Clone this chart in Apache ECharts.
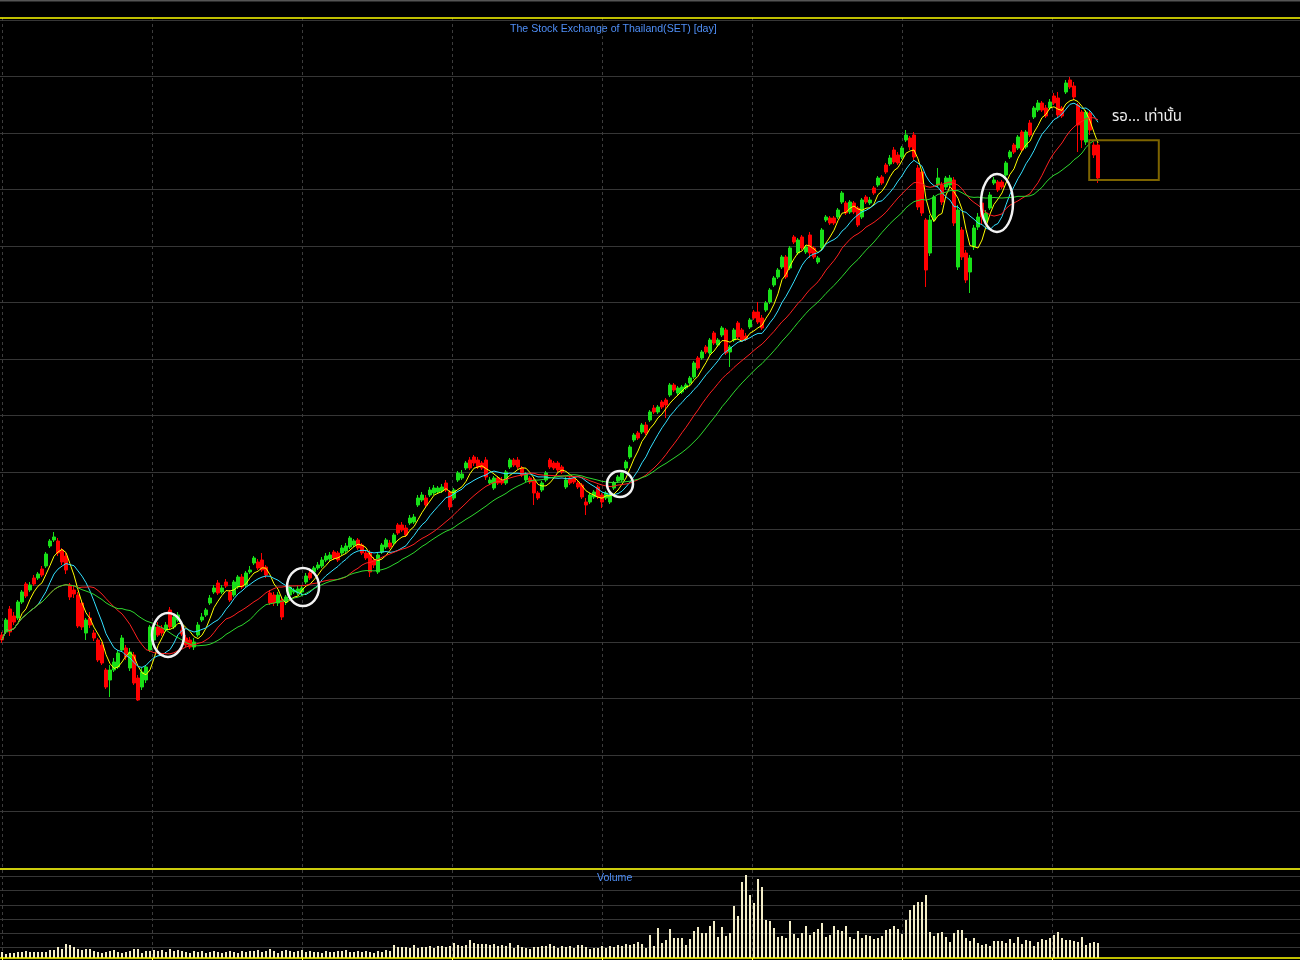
<!DOCTYPE html>
<html><head><meta charset="utf-8">
<script src="https://cdn.jsdelivr.net/npm/echarts/dist/echarts.min.js"></script>
<style>html,body{margin:0;padding:0;background:#000;overflow:hidden}#c{width:1300px;height:960px}</style>
</head><body><div id="c"></div>
<script>
// ---- data (index points, arbitrary scale; volume in arbitrary units) ----
const opens = [
233,236,259,252,250,266,284,278,290,290, 299,302,322,328,327,318,312,283,278,273,
265,235,250,235,228,223,198,188,198,201, 218,220,200,213,190,181,188,218,228,241,
240,238,258,241,248,238,230,228,221,233, 248,253,265,276,285,276,286,276,273,281,
291,283,296,305,306,308,301,275,273,265, 268,266,273,276,275,276,286,295,296,300,
302,308,309,316,315,315,317,321,323,328, 323,315,315,308,296,316,321,325,325,343,
343,340,345,346,363,368,370,373,375,376, 377,385,376,370,388,390,400,408,411,408,
405,408,385,380,390,388,385,401,408,408, 400,388,390,388,375,378,388,408,405,405,
401,381,390,390,385,383,366,366,371,381, 373,370,366,380,387,388,400,411,428,435,
436,443,448,460,456,466,468,473,483,475, 476,480,485,491,510,510,521,515,535,523,
533,538,516,528,545,538,532,541,556,556, 550,558,566,583,591,601,611,600,631,615,
631,616,633,620,606,620,648,650,650,651, 666,665,656,665,660,651,671,665,680,683,
691,703,704,718,713,711,728,730,733,700, 696,648,615,648,683,683,681,683,688,601,
638,615,596,621,641,665,646,660,685,686, 686,693,711,723,720,736,721,745,751,758,
765,760,760,772,770,760,776,788,782,763, 756,726,755,723,723];
const closes = [
228,248,236,246,266,276,272,283,284,294, 293,314,327,331,315,306,298,271,274,242,
241,248,243,230,208,205,181,198,206,215, 230,211,216,185,168,196,201,241,241,233,
235,243,241,251,253,234,223,221,226,243, 251,258,270,280,275,280,282,268,286,291,
281,295,298,310,300,298,293,265,265,273, 251,271,281,278,279,280,292,290,300,303,
308,312,313,310,308,320,322,330,327,320, 315,310,296,303,313,323,328,321,333,335,
338,333,350,351,370,373,363,378,380,380, 381,378,361,378,395,394,405,400,405,401,
400,391,388,390,385,385,396,408,403,401, 393,394,386,375,370,385,395,401,400,398,
396,388,385,386,381,371,363,373,376,371, 366,375,373,385,391,395,406,421,433,430,
443,435,456,456,461,461,463,483,478,480, 481,483,490,505,500,516,516,528,525,528,
540,515,521,538,531,528,529,548,550,546, 540,565,578,590,598,611,591,620,626,628,
620,621,615,611,610,638,651,645,645,658, 675,655,666,656,643,668,666,668,675,690,
685,696,710,706,705,720,733,721,711,661, 655,598,648,671,690,666,690,690,645,658,
611,588,610,640,651,651,655,673,688,678, 681,705,716,716,731,718,736,733,760,765,
758,752,766,765,753,752,785,781,771,743, 728,756,738,713,690];
const lows = [
225,234,232,243,248,264,270,276,282,288, 291,300,320,326,312,303,294,268,270,240,
238,228,240,227,206,203,179,171,196,199, 216,208,197,183,167,178,185,216,226,231,
232,236,239,239,246,232,221,219,218,231, 246,251,263,274,273,274,280,266,271,279,
279,281,294,303,298,296,290,263,262,262, 248,263,271,274,273,272,284,288,294,298,
300,306,307,308,306,313,315,319,321,318, 313,308,291,300,294,314,319,319,323,333,
336,331,343,344,361,366,361,371,373,374, 375,376,358,368,386,388,398,398,402,399,
398,388,383,378,383,383,383,399,401,399, 391,386,384,363,368,376,386,399,398,396,
394,379,383,384,379,369,353,364,369,369, 360,368,364,378,385,386,398,409,426,428,
434,433,446,454,454,459,450,471,476,473, 474,478,483,489,498,508,514,513,523,521,
531,513,501,526,529,526,527,539,548,544, 538,556,564,581,589,599,589,598,624,613,
618,614,610,609,604,618,646,643,643,649, 664,653,654,654,641,649,664,663,673,681,
683,694,702,704,703,709,726,718,708,658, 652,581,612,646,681,663,678,681,642,598,
608,585,575,618,638,643,644,658,683,676, 679,691,709,714,718,716,719,731,749,756,
756,750,758,763,750,750,774,779,768,716, 720,723,733,710,685];
const highs = [
236,250,262,256,268,278,286,286,293,296, 302,316,329,336,330,320,315,285,282,276,
268,250,256,238,230,226,200,203,210,218, 233,223,220,216,193,200,203,243,244,246,
243,246,261,254,256,243,233,231,230,246, 255,260,273,283,288,283,289,278,288,293,
294,297,302,312,309,315,303,278,276,276, 270,273,283,280,282,283,295,297,302,306,
311,315,316,318,317,323,325,332,329,330, 325,318,318,311,315,325,330,328,335,345,
346,343,353,354,373,376,373,381,383,382, 384,388,378,380,397,398,407,411,413,411,
407,411,391,392,392,391,398,410,410,411, 402,396,392,390,377,387,397,410,407,407,
403,391,392,392,387,385,370,375,378,383, 375,377,375,387,393,397,408,423,435,437,
445,446,458,463,463,468,470,485,485,482, 483,485,492,507,512,518,523,530,537,530,
542,540,523,540,547,540,535,550,558,566, 553,567,580,592,600,613,613,622,633,630,
633,623,636,622,612,640,653,652,652,660, 677,667,668,667,662,670,673,671,682,692,
693,705,713,721,716,722,738,732,736,703, 698,650,653,673,700,686,692,693,691,663,
641,618,613,643,655,668,658,676,691,688, 688,707,718,725,733,738,738,748,762,768,
767,763,769,775,776,762,788,791,786,765, 758,758,758,726,725];
const volumes = [
6,4,5,5,6,6,7,6,6,6, 6,6,8,8,11,9,14,13,11,9, 8,9,9,7,6,5,6,7,8,6, 5,6,7,9,9,5,7,7,8,7,
8,6,9,7,8,7,6,5,7,6, 7,5,6,7,6,5,6,7,6,5, 7,6,7,7,8,6,7,9,7,5, 7,8,7,6,7,8,6,7,6,6,
5,7,6,6,7,7,8,6,6,7, 6,7,6,5,7,6,8,7,13,11, 11,11,10,13,10,11,11,12,10,12, 12,11,12,15,13,12,13,18,15,14,
14,14,13,14,12,13,12,15,10,13, 11,10,9,11,11,12,12,14,12,10, 12,11,12,10,13,13,11,9,10,10, 12,10,12,11,13,12,14,13,14,16,
14,10,
23,12,30,15,18,29,20,20,20,13, 19,27,31,25,25,32,37,21,31,22, 25,52,42,76,83,63,55,79,71,38,
37,30,21,22,20,37,24,20,25,32, 23,26,29,35,21,23,32,28,27,32, 21,19,27,20,23,22,19,20,22,28,
29,32,29,24,38,48,53,56,56,63, 26,22,25,26,21,16,25,28,28,20, 17,20,15,13,14,12,17,17,17,15,
19,15,21,14,18,17,12,16,19,18, 20,23,26,20,18,18,17,16,21,13, 15,16,15];
const maPeriods = [5, 10, 20, 30];
const maColors = ['#ffff00', '#33e0ff', '#ff2020', '#2ed82e'];
const slotCount = 325; // visible bar slots incl. empty space on the right
const categories = [];
for (let i = 0; i < slotCount; i++) categories.push(i < closes.length ? 'D' + (i + 1) : '');
const titleText = 'The Stock Exchange of Thailand(SET) [day]';
const noteText = 'รอ... เท่านั้น';

// ---- build ----
const candles = opens.map((o, i) => [o, closes[i], lows[i], highs[i]]);
function movingAverage(n) {
  return closes.map((_, i) => {
    const s = Math.max(0, i - n + 1);
    let sum = 0;
    for (let k = s; k <= i; k++) sum += closes[k];
    return +(sum / (i - s + 1)).toFixed(2);
  });
}
const narrow = '"Liberation Sans Narrow","Liberation Sans",Arial,sans-serif';
const hiddenCat = {type: 'category', data: categories, boundaryGap: true, axisLine: {show: false}, axisTick: {show: false}, axisLabel: {show: false}, splitLine: {show: false}};
const chart = echarts.init(document.getElementById('c'), null, {renderer: 'canvas'});
const series = [{
  type: 'candlestick', xAxisIndex: 0, yAxisIndex: 0, data: candles, barWidth: 3, z: 2,
  itemStyle: {color: '#18e018', color0: '#ff0000', borderColor: '#18e018', borderColor0: '#ff0000', borderWidth: 1}
}];
maPeriods.forEach((p, k) => series.push({
  type: 'line', xAxisIndex: 0, yAxisIndex: 0, data: movingAverage(p), symbol: 'none', smooth: false, z: 3,
  lineStyle: {color: maColors[k], width: 1}
}));
series.push({type: 'bar', xAxisIndex: 1, yAxisIndex: 1, data: volumes, barWidth: 2, itemStyle: {color: '#f4eec8'}});

chart.setOption({
  backgroundColor: '#000',
  animation: false,
  title: [
    {text: titleText, left: 510, top: 24, padding: 0, textStyle: {color: '#4f8ff7', fontSize: 10.6, fontWeight: 'normal', fontFamily: narrow}},
    {text: 'Volume', left: 597, top: 873, padding: 0, textStyle: {color: '#4f8ff7', fontSize: 10.6, fontWeight: 'normal', fontFamily: narrow}}
  ],
  grid: [
    {left: 0, right: 0, top: 20, height: 848, outerBoundsMode: 'none'},
    {left: 0, right: 0, top: 869, height: 89, outerBoundsMode: 'none'},
    {left: 0, right: 0, top: 869, height: 93, outerBoundsMode: 'none'},
    {left: 2.5, width: 1050, top: 18, height: 940, outerBoundsMode: 'none'}
  ],
  xAxis: [
    Object.assign({gridIndex: 0}, hiddenCat),
    Object.assign({gridIndex: 1}, hiddenCat),
    {type: 'value', gridIndex: 2, min: 0, max: 1, show: false},
    {type: 'value', gridIndex: 3, min: 0, max: 1050, interval: 150, axisLine: {show: false}, axisLabel: {show: false},
     axisTick: {show: true, length: 2, lineStyle: {color: '#ffff00'}},
     splitLine: {show: true, lineStyle: {color: '#3c3c3c', type: [3, 3], width: 1}}}
  ],
  yAxis: [
    {type: 'value', gridIndex: 0, min: 0, max: 848, interval: 848 / 15, axisLine: {show: false}, axisTick: {show: false}, axisLabel: {show: false},
     splitLine: {show: true, lineStyle: {color: '#363636', width: 1}}},
    {type: 'value', gridIndex: 1, min: 0, max: 89, show: false},
    {type: 'value', gridIndex: 2, min: 0, max: 93, interval: 14.27, axisLine: {show: false}, axisTick: {show: false}, axisLabel: {show: false},
     splitLine: {show: true, lineStyle: {color: '#363636', width: 1}}},
    {type: 'value', gridIndex: 3, min: 0, max: 1, show: false}
  ],
  series: series
});

// ---- annotations (anchored in data coordinates of the main grid) ----
function px(idx, val) {
  const f = Math.floor(idx), fr = idx - f;
  const a = chart.convertToPixel({gridIndex: 0}, [f, val]);
  const b = chart.convertToPixel({gridIndex: 0}, [f + 1, val]);
  return [a[0] + fr * (b[0] - a[0]), a[1]];
}
const circles = [[41.5, 233, 16, 22], [75.25, 281, 16, 19], [154.5, 384, 13, 13], [248.75, 665, 16, 29]];
const g = [];
circles.forEach(c => {
  const p = px(c[0], c[1]);
  g.push({type: 'ellipse', z: 100, shape: {cx: p[0], cy: p[1], rx: c[2], ry: c[3]}, style: {fill: null, stroke: '#f2f2f2', lineWidth: 2.5}});
});
const r0 = px(271.8, 727.7), r1 = px(289.2, 688);
g.push({type: 'rect', z: 100, shape: {x: r0[0], y: r0[1], width: r1[0] - r0[0], height: r1[1] - r0[1]}, style: {fill: null, stroke: '#7d6400', lineWidth: 2}});
const tp = px(277.5, 750);
g.push({type: 'text', z: 100, x: tp[0], y: tp[1], style: {text: noteText, fill: '#ececec', fontSize: 15, fontFamily: '"Noto Sans Thai","Noto Sans",Tahoma,sans-serif', verticalAlign: 'middle', align: 'left'}});
// frame lines
g.push({type: 'line', z: 50, shape: {x1: 0, y1: 0.5, x2: 1300, y2: 0.5}, style: {stroke: '#555', lineWidth: 2}});
[18, 869, 958].forEach(y => g.push({type: 'line', z: 50, shape: {x1: 0, y1: y, x2: 1300, y2: y}, style: {stroke: '#ffff00', lineWidth: 1.5}}));
chart.setOption({graphic: g});
</script></body></html>
